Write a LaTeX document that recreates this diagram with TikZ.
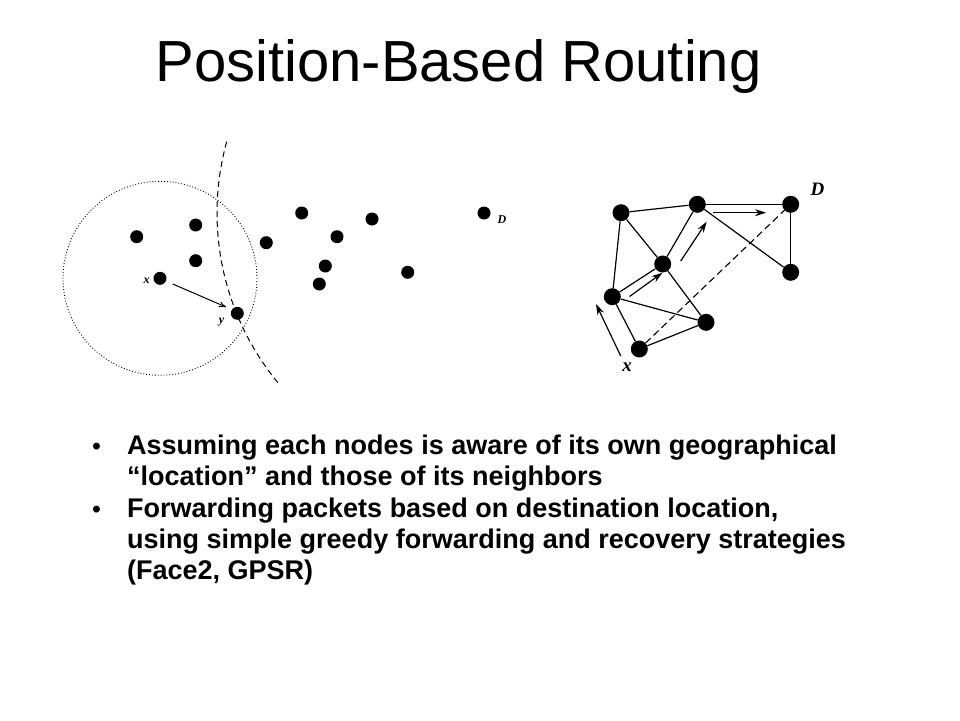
\documentclass[tikz,border=0pt]{standalone}
\usepackage{fontspec}
\setmainfont{Liberation Sans}
\newfontfamily\lblfont{Liberation Serif}
\usetikzlibrary{arrows.meta}
\tikzset{
  sdot/.style={circle,fill=black,inner sep=0pt,minimum size=13pt},
  bdot/.style={circle,fill=black,inner sep=0pt,minimum size=17pt},
  slbl/.style={font=\lblfont\bfseries\itshape\fontsize{12}{12}\selectfont,inner sep=0pt},
  blbl/.style={font=\lblfont\bfseries\itshape\fontsize{19}{19}\selectfont,inner sep=0pt},
  edge/.style={line width=1.2pt},
  fwd/.style={line width=1.2pt,-{Stealth[length=11pt,width=7pt]}},
  bullettext/.style={font=\bfseries\fontsize{27}{27}\selectfont,inner sep=0pt,anchor=base west},
  bulletmark/.style={font=\bfseries\fontsize{24}{24}\selectfont,inner sep=0pt,anchor=base},
}
\begin{document}
\begin{tikzpicture}[x=1pt,y=-1pt]
\useasboundingbox[fill=white] (0,0) rectangle (960,720);
% title
\node[font=\fontsize{58}{58}\selectfont,inner sep=0pt,anchor=base] (title) at (458.5,81.7) {Position-Based Routing};
% ---------- left diagram ----------
\node[sdot] (n1) at (136.7,236.7) {};
\node[sdot] (n2) at (195.7,225) {};
\node[sdot] (n3) at (195.7,260.7) {};
\node[sdot] (lx) at (160,278.3) {};
\node[sdot] (ly) at (237.3,313.3) {};
\node[sdot] (n4) at (266.3,242.7) {};
\node[sdot] (n5) at (301.7,213) {};
\node[sdot] (n6) at (337,236.7) {};
\node[sdot] (n7) at (325.3,266) {};
\node[sdot] (n8) at (319.3,284) {};
\node[sdot] (n9) at (372,219) {};
\node[sdot] (n10) at (407.7,272.3) {};
\node[sdot] (lD) at (484,213) {};
\node[slbl] (lxl) at (146.5,281) {x};
\node[slbl] (lyl) at (221.5,322) {y};
\node[slbl] (lDl) at (502,220) {D};
\draw[dotted,line width=0.9pt] (lx.center) circle[radius=97];
\draw[dashed,line width=1pt,dash pattern=on 6pt off 4pt] (lD.center) ++(195.5:267) arc[start angle=195.5,end angle=140.4,radius=267];
\coordinate (la1) at (172.7,284);
\coordinate (la2) at (226,307);
\draw[line width=1pt,-{To[length=7pt,width=6pt]}] (la1) -- (la2);
% ---------- right diagram ----------
\node[bdot] (A) at (621,212.7) {};
\node[bdot] (B) at (697.3,204.3) {};
\node[bdot] (D) at (790.7,204.3) {};
\node[bdot] (E) at (790.7,272.3) {};
\node[bdot] (C) at (662.7,264) {};
\node[bdot] (F) at (612.3,296.7) {};
\node[bdot] (G) at (706,322.3) {};
\node[bdot] (X) at (639.3,349) {};
\draw[edge] (A) -- (B);
\draw[edge] (A) -- (C);
\draw[edge] (A) -- (F);
\draw[edge] (B) -- (C);
\draw[edge] (B) -- (D);
\draw[edge] (B) -- (E);
\draw[edge] (D) -- (E);
\draw[edge] (C) -- (F);
\draw[edge] (C) -- (G);
\draw[edge] (F) -- (G);
\draw[edge] (F) -- (X);
\draw[edge] (X) -- (G);
\draw[line width=1.1pt,dash pattern=on 7pt off 4pt] (X) -- (D);
\node[blbl] (Dl) at (817.5,189) {D};
\node[blbl] (Xl) at (627,367) {x};
\coordinate (a1s) at (620.7,356);
\coordinate (a1e) at (596,304);
\coordinate (a2s) at (629.5,296.5);
\coordinate (a2e) at (662.5,272.7);
\coordinate (a3s) at (680.7,261);
\coordinate (a3e) at (706.7,221.7);
\coordinate (a4s) at (713.3,212.7);
\coordinate (a4e) at (766,212.7);
\draw[fwd] (a1s) -- (a1e);
\draw[fwd] (a2s) -- (a2e);
\draw[fwd] (a3s) -- (a3e);
\draw[fwd] (a4s) -- (a4e);
% ---------- bullets ----------
\node[bulletmark] (b1) at (96.5,454) {•};
\node[bulletmark] (b2) at (96.5,517) {•};
\node[bullettext] (t1a) at (127,454) {Assuming each nodes is aware of its own geographical};
\node[bullettext] (t1b) at (127,485) {“location” and those of its neighbors};
\node[bullettext] (t2a) at (127,517) {Forwarding packets based on destination location,};
\node[bullettext] (t2b) at (127,548) {using simple greedy forwarding and recovery strategies};
\node[bullettext] (t2c) at (127,579) {(Face2, GPSR)};
\end{tikzpicture}
\end{document}
